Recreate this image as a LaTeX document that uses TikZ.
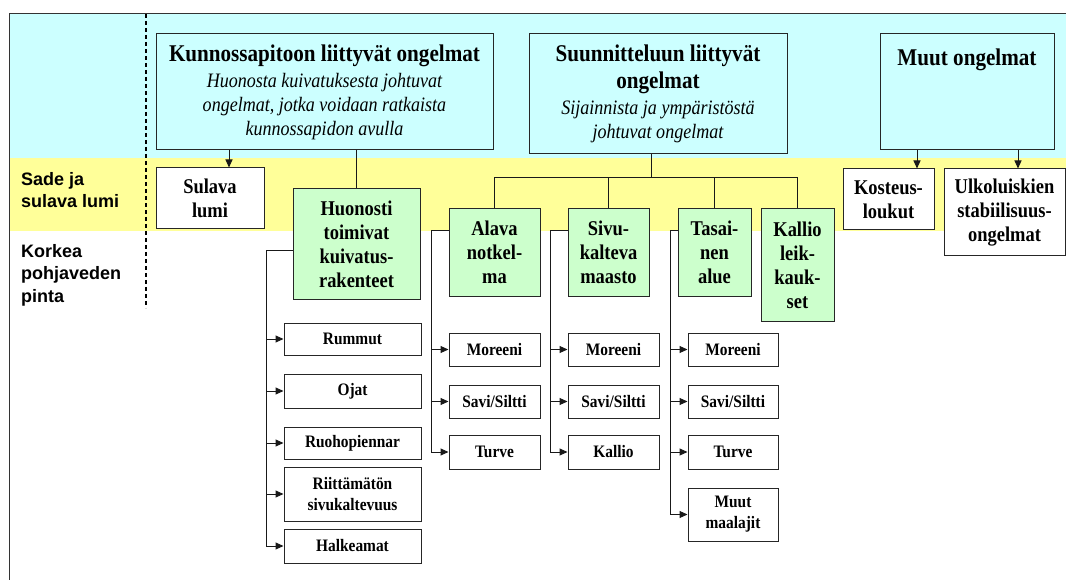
\documentclass[tikz,border=0pt]{standalone}
\usepackage{fontspec}
\setmainfont{Liberation Serif}[FakeStretch=0.88]
\setsansfont{Liberation Sans}
\usetikzlibrary{arrows.meta}

\definecolor{bandcyan}{RGB}{204,255,255}
\definecolor{bandyellow}{RGB}{255,255,153}
\definecolor{boxgreen}{RGB}{204,255,204}

\newcommand\titlefont{\fontsize{24}{27}\selectfont\bfseries\upshape}
\newcommand\notefont{\fontsize{20.5}{24}\selectfont\mdseries\itshape}
\newcommand\boxfont{\fontsize{21}{24}\selectfont\bfseries}
\newcommand\leaffont{\fontsize{17.5}{21}\selectfont\bfseries}
\newcommand\sidefont{\sffamily\fontsize{18}{22.5}\selectfont\bfseries}

\begin{document}
\begin{tikzpicture}[x = 1pt, y = -1pt,
    every node/.style = {inner sep = 0pt, align = center, font = \boxfont},
    box/.style = {draw = black!85, line width = 1pt, fill = white},
    topbox/.style = {box, fill = bandcyan},
    greenbox/.style = {box, fill = boxgreen},
    leaf/.style = {box, font = \leaffont},
    side/.style = {anchor = north west, align = left, font = \sidefont},
    link/.style = {line width = 1pt, black!90},
    arr/.style = {-{Triangle[length = 8pt, width = 7pt]}}]
    \useasboundingbox (0,0) rectangle (1066,580);
    \fill[bandcyan] (9,14) rectangle (1066,158);
    \fill[bandyellow] (9,158) rectangle (1066,231);
    \draw[line width = 1pt, black!80] (1066,14) -- (9,14) -- (9,580);
    \draw[line width = 1.2pt, dash pattern = on 4pt off 3pt] (146,14) -- (146,308);

    \node[side] (sade) at (21,172) {Sade ja\\ sulava lumi};
    \node[side] (korkea) at (21,244) {Korkea\\ pohjaveden\\ pinta};

    \node[topbox, minimum width = 337pt, minimum height = 116pt, font = \notefont] (kunn) at (324.5,92)
        {{\titlefont Kunnossapitoon liittyvät ongelmat}\\[2pt] Huonosta kuivatuksesta johtuvat\\
         ongelmat, jotka voidaan ratkaista\\ kunnossapidon avulla};
    \node[topbox, minimum width = 258pt, minimum height = 120pt, font = \notefont] (suun) at (658,94)
        {{\titlefont Suunnitteluun liittyvät}\\[3pt] {\titlefont ongelmat}\\[2pt]
         Sijainnista ja ympäristöstä\\ johtuvat ongelmat};
    \node[topbox, minimum width = 174pt, minimum height = 116pt,
        label = {[anchor = north, yshift = -15pt, font = \titlefont]north:Muut ongelmat}] (muut) at (967,92) {};

    \node[box, minimum width = 108pt, minimum height = 61pt] (sulava) at (210,198.5) {Sulava\\ lumi};
    \node[greenbox, minimum width = 127pt, minimum height = 110pt] (huon) at (356.5,244)
        {Huonosti\\ toimivat\\ kuivatus-\\ rakenteet};
    \node[greenbox, minimum width = 91pt, minimum height = 87pt] (alava) at (494.5,252.5) {Alava\\ notkel-\\ ma};
    \node[greenbox, minimum width = 81pt, minimum height = 87pt] (sivu) at (608.5,252.5) {Sivu-\\ kalteva\\ maasto};
    \node[greenbox, minimum width = 73pt, minimum height = 87pt] (tasa) at (714.5,252.5) {Tasai-\\ nen\\ alue};
    \node[greenbox, minimum width = 73pt, minimum height = 112pt] (kallio) at (797.5,265) {Kallio\\ leik-\\ kauk-\\ set};
    \node[box, minimum width = 91pt, minimum height = 61pt] (kost) at (888.5,199.5) {Kosteus-\\ loukut};
    \node[box, minimum width = 121pt, minimum height = 87pt] (ulko) at (1004.5,212.5)
        {Ulkoluiskien\\ stabiilisuus-\\ ongelmat};

    \node[leaf, minimum width = 137pt, minimum height = 32pt] (rummut) at (352.5,339) {Rummut};
    \node[leaf, minimum width = 137pt, minimum height = 34pt] (ojat) at (352.5,391) {Ojat};
    \node[leaf, minimum width = 137pt, minimum height = 32pt] (ruoho) at (352.5,443) {Ruohopiennar};
    \node[leaf, minimum width = 137pt, minimum height = 54pt] (riitt) at (352.5,494) {Riittämätön\\ sivukaltevuus};
    \node[leaf, minimum width = 137pt, minimum height = 34pt] (halk) at (352.5,546) {Halkeamat};

    \node[leaf, minimum width = 91pt, minimum height = 33pt] (amor) at (494.5,349.5) {Moreeni};
    \node[leaf, minimum width = 91pt, minimum height = 33pt] (asavi) at (494.5,401.5) {Savi/Siltti};
    \node[leaf, minimum width = 91pt, minimum height = 34pt] (aturve) at (494.5,452) {Turve};

    \node[leaf, minimum width = 91pt, minimum height = 33pt] (smor) at (613.5,349.5) {Moreeni};
    \node[leaf, minimum width = 91pt, minimum height = 33pt] (ssavi) at (613.5,401.5) {Savi/Siltti};
    \node[leaf, minimum width = 91pt, minimum height = 34pt] (skallio) at (613.5,452) {Kallio};

    \node[leaf, minimum width = 90pt, minimum height = 33pt] (tmor) at (733,349.5) {Moreeni};
    \node[leaf, minimum width = 90pt, minimum height = 33pt] (tsavi) at (733,401.5) {Savi/Siltti};
    \node[leaf, minimum width = 90pt, minimum height = 34pt] (tturve) at (733,452) {Turve};
    \node[leaf, minimum width = 90pt, minimum height = 53pt] (tmuut) at (733,514.5) {Muut\\ maalajit};

    \draw[link, arr] ([xshift = 19pt]sulava.north |- kunn.south) -- ([xshift = 19pt]sulava.north);
    \draw[link] (huon.north |- kunn.south) -- (huon.north);
    \draw[link, arr] ([xshift = 28.5pt]kost.north |- muut.south) -- ([xshift = 28.5pt]kost.north);
    \draw[link, arr] ([xshift = 13.5pt]ulko.north |- muut.south) -- ([xshift = 13.5pt]ulko.north);

    \coordinate (split) at (651,178);
    \draw[link] (split |- suun.south) -- (split);
    \foreach \n in {alava, sivu, tasa, kallio}
        \draw[link] (split) -| (\n.north);

    \coordinate (hbus) at (266,251);
    \draw[link] (huon.west |- hbus) -- (hbus);
    \foreach \n in {rummut, ojat, ruoho, riitt, halk}
        \draw[link, arr] (hbus) |- (\n.west);

    \coordinate (abus) at (431,231);
    \draw[link] (alava.west |- abus) -- (abus);
    \foreach \n in {amor, asavi, aturve}
        \draw[link, arr] (abus) |- (\n.west);

    \coordinate (sbus) at (550,231);
    \draw[link] (sivu.west |- sbus) -- (sbus);
    \foreach \n in {smor, ssavi, skallio}
        \draw[link, arr] (sbus) |- (\n.west);

    \coordinate (tbus) at (670,231);
    \draw[link] (tasa.west |- tbus) -- (tbus);
    \foreach \n in {tmor, tsavi, tturve, tmuut}
        \draw[link, arr] (tbus) |- (\n.west);
\end{tikzpicture}
\end{document}
